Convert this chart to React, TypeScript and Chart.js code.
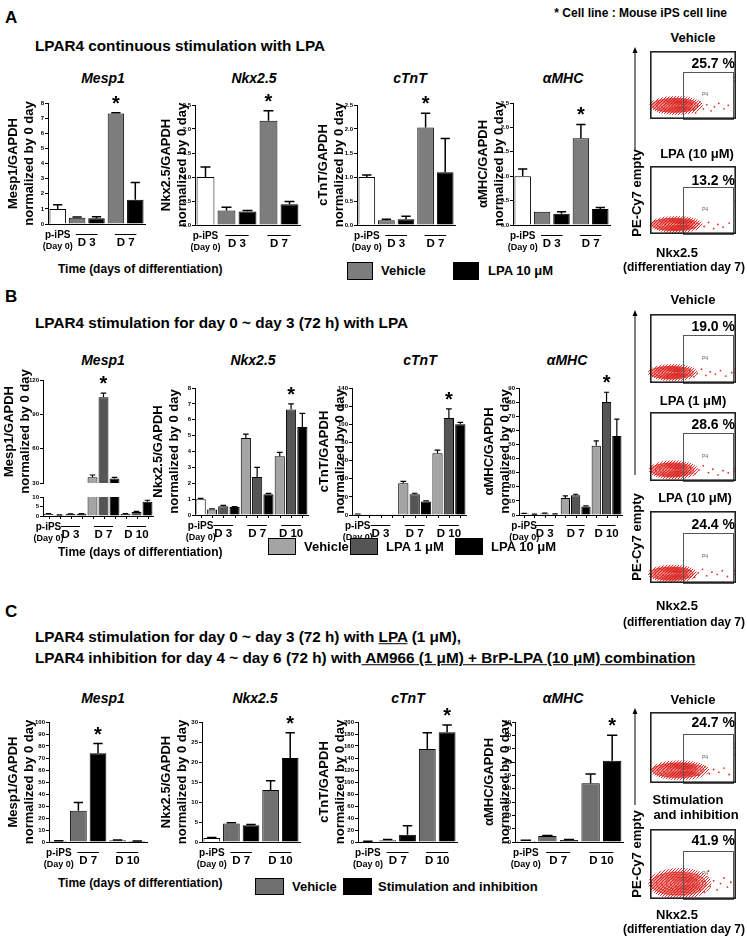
import React, { useEffect, useRef } from 'react';
import { Chart, registerables } from 'chart.js';

Chart.register(...registerables);

const FONT = '"Liberation Sans", Arial, Helvetica, sans-serif';
const TITLE_SIZE = 13;
const LH = TITLE_SIZE * 1.25;

// ---------------- DATA ----------------
// Panel A : p-iPS (Day 0), D 3, D 7
const panelANames = ['p-iPS', 'Vehicle', 'LPA 10 μM'];
const panelAColors = ['#ffffff', '#7d7d7d', '#000000'];
const panelASlotSeries = [0, 1, 2, 1, 2];
const panelASlotGroups = [0, 1, 1, 2, 2];
const panelAGroups = [['p-iPS', '(Day 0)'], ['D 3'], ['D 7']];

const aMesp1Values = [1.0, 0.42, 0.38, 7.3, 1.6];
const aMesp1Errors = [0.28, 0.05, 0.1, 0.05, 1.15];
const aNkxValues = [1.0, 0.3, 0.28, 2.17, 0.43];
const aNkxErrors = [0.21, 0.07, 0.02, 0.21, 0.06];
const aTntValues = [1.0, 0.1, 0.12, 2.03, 1.1];
const aTntErrors = [0.04, 0.02, 0.06, 0.3, 0.7];
const aMhcValues = [1.0, 0.27, 0.23, 1.78, 0.33];
const aMhcErrors = [0.15, 0.0, 0.04, 0.28, 0.03];

// Panel B : p-iPS (Day 0), D 3, D 7, D 10
const panelBNames = ['p-iPS', 'Vehicle', 'LPA 1 μM', 'LPA 10 μM'];
const panelBColors = ['#ffffff', '#a4a4a4', '#555555', '#000000'];
const panelBSlotSeries = [0, 1, 2, 3, 1, 2, 3, 1, 2, 3];
const panelBSlotGroups = [0, 1, 1, 1, 2, 2, 2, 3, 3, 3];
const panelBGroups = [['p-iPS', '(Day 0)'], ['D 3'], ['D 7'], ['D 10']];

const bMesp1Values = [1.0, 0.5, 1.0, 1.2, 35, 105, 34, 1.0, 2.1, 7.5];
const bMesp1Errors = [0.2, 0.1, 0.1, 0.1, 2, 3.5, 1, 0.2, 0.3, 0.8];
const bNkxValues = [1.0, 0.35, 0.55, 0.5, 4.85, 2.4, 1.3, 3.7, 6.65, 5.55];
const bNkxErrors = [0.05, 0.04, 0.06, 0.03, 0.25, 0.6, 0.06, 0.25, 0.35, 0.85];
const bTntValues = [0.8, 0.3, 0.3, 0.3, 35, 23, 15, 68, 107, 100];
const bTntErrors = [0.3, 0, 0, 0, 2, 1, 0.6, 3.5, 10, 2];
const bMhcValues = [1.0, 0.5, 1.0, 0.6, 12, 14, 6, 49, 80, 56];
const bMhcErrors = [0.2, 0.1, 0.3, 0.2, 1.5, 0.7, 0.5, 3.5, 7, 12];

// Panel C : p-iPS (Day 0), D 7, D 10
const panelCNames = ['p-iPS', 'Vehicle', 'Stimulation and inhibition'];
const panelCColors = ['#ffffff', '#6f6f6f', '#000000'];
const panelCSlotSeries = [0, 1, 2, 1, 2];
const panelCSlotGroups = [0, 1, 1, 2, 2];
const panelCGroups = [['p-iPS', '(Day 0)'], ['D 7'], ['D 10']];

const cMesp1Values = [1.0, 26, 74, 1.5, 0.8];
const cMesp1Errors = [0.1, 7, 8, 0.2, 0.1];
const cNkxValues = [1.0, 4.6, 4.2, 13, 21];
const cNkxErrors = [0.1, 0.2, 0.15, 2.3, 6.3];
const cTntValues = [1.0, 3, 12, 155, 183];
const cTntErrors = [0.3, 1, 15, 27, 12];
const cMhcValues = [1.0, 4.5, 1.5, 44, 61];
const cMhcErrors = [0.3, 0.3, 0.3, 7, 19];

// Flow cytometry plots (axis units 0-100): blob = [centre x, centre y, radius x, radius y]
const flowGate = [38, 96, 69];
const flowA1Blob = [29, 20, 27, 10];
const flowA2Blob = [29, 14, 27, 9];
const flowB1Blob = [25, 15, 25, 9];
const flowB2Blob = [26, 16, 25, 10];
const flowB3Blob = [25, 13, 25, 9];
const flowC1Blob = [33, 18, 30, 10];
const flowC2Blob = [33, 22, 32, 16];
const flowA1Events = [[44, 16], [47, 22], [51, 13], [55, 19], [58, 25], [62, 15], [66, 21], [71, 12], [75, 18], [80, 23], [86, 15], [91, 20], [99, 56], [99, 61], [42, 27], [53, 9]];
const flowA2Events = [[43, 12], [48, 18], [52, 9], [57, 15], [63, 11], [68, 17], [74, 8], [79, 14], [85, 10], [92, 16], [99, 48], [45, 22]];
const flowB1Events = [[42, 12], [46, 18], [51, 9], [55, 14], [60, 20], [65, 11], [70, 16], [76, 13], [82, 18], [88, 10], [95, 15], [99, 15], [99, 20]];
const flowB2Events = [[42, 14], [47, 19], [52, 10], [57, 16], [62, 22], [68, 12], [73, 17], [79, 9], [85, 15], [91, 12], [99, 14], [99, 18]];
const flowB3Events = [[43, 11], [47, 17], [52, 8], [56, 14], [61, 19], [66, 10], [72, 15], [78, 12], [84, 17], [90, 9], [99, 12], [99, 17]];
const flowC1Events = [[48, 14], [52, 20], [56, 11], [60, 17], [64, 23], [69, 13], [74, 19], [80, 15], [86, 21], [92, 12], [99, 50], [99, 55], [99, 40]];
const flowC2Events = [[50, 20], [54, 28], [58, 15], [62, 24], [66, 32], [70, 18], [74, 26], [78, 13], [82, 22], [86, 30], [90, 17], [94, 24], [55, 36], [63, 10], [68, 40]];

// ---------------- COMPONENTS ----------------
type BarProps = {
  plot: number[];
  titleX?: number;
  left?: number;
  yTitle?: string[];
  values: number[];
  errors: number[];
  slotSeries: number[];
  slotGroups: number[];
  groups: string[][];
  colors: string[];
  names: string[];
  min?: number;
  max: number;
  step: number;
  dec: number;
  star?: number;
  showX?: boolean;
  showLabels?: boolean;
  clipTop?: boolean;
  barTicks?: boolean;
  barFrac: number;
  errWidth?: number;
  padTop?: number;
  xHeight?: number;
};

function BarChart(p: BarProps) {
  const ref = useRef<HTMLCanvasElement>(null);
  const [x0, y0, x1, y1] = p.plot;
  const left = p.yTitle ? Math.round(p.titleX! - LH / 2) : p.left!;
  const padTop = p.padTop ?? 24;
  const xHeight = p.xHeight ?? 34;
  const top = y0 - padTop;
  const width = x1 + 4 - left;
  const height = y1 + xHeight - top;
  const yWidth = x0 - left;
  const showX = p.showX ?? true;
  const showLabels = p.showLabels ?? true;

  useEffect(() => {
    const slotLabels = p.slotGroups.map((g) => p.groups[g].join(' '));
    const datasets = p.colors.map((c, s) => ({
      label: p.names[s],
      data: p.values.map((v, i) => (p.slotSeries[i] === s ? v : null)),
      backgroundColor: c,
      borderColor: '#000',
      borderWidth: 1,
      borderSkipped: 'start',
      grouped: false,
      categoryPercentage: 1,
      barPercentage: p.barFrac,
      clip: 0,
    }));
    const extras = {
      id: 'barExtras',
      afterDatasetsDraw(chart: any) {
        const { ctx, chartArea: ca } = chart;
        const ys = chart.scales.y;
        const el = (i: number) => chart.getDatasetMeta(p.slotSeries[i]).data[i];
        // error bars
        ctx.save();
        ctx.beginPath();
        const ct = p.clipTop ? ca.top : 0;
        ctx.rect(0, ct, chart.width, ca.bottom - ct);
        ctx.clip();
        ctx.strokeStyle = '#000';
        ctx.lineWidth = p.errWidth ?? 1.5;
        p.values.forEach((v, i) => {
          const e = p.errors[i];
          if (!e) return;
          const b = el(i);
          const yV = ys.getPixelForValue(v);
          const yT = ys.getPixelForValue(v + e);
          const cw = b.width * 0.28;
          ctx.beginPath();
          ctx.moveTo(b.x, yV);
          ctx.lineTo(b.x, yT);
          ctx.moveTo(b.x - cw, yT);
          ctx.lineTo(b.x + cw, yT);
          ctx.stroke();
        });
        ctx.restore();
        // star
        if (p.star !== undefined) {
          const b = el(p.star);
          const yT = ys.getPixelForValue(p.values[p.star] + p.errors[p.star]);
          ctx.save();
          ctx.fillStyle = '#000';
          ctx.font = `bold 20px ${FONT}`;
          ctx.textAlign = 'center';
          ctx.textBaseline = 'alphabetic';
          ctx.fillText('*', b.x, yT - 3);
          ctx.restore();
        }
        // ticks under bars
        if (p.barTicks) {
          ctx.save();
          ctx.strokeStyle = '#000';
          ctx.lineWidth = 1;
          p.values.forEach((_v, i) => {
            const b = el(i);
            ctx.beginPath();
            ctx.moveTo(Math.round(b.x) + 0.5, ca.bottom);
            ctx.lineTo(Math.round(b.x) + 0.5, ca.bottom + 3);
            ctx.stroke();
          });
          ctx.restore();
        }
        // group labels
        if (showLabels) {
          ctx.save();
          ctx.fillStyle = '#000';
          ctx.strokeStyle = '#000';
          ctx.textAlign = 'center';
          ctx.textBaseline = 'middle';
          p.groups.forEach((lines, g) => {
            const bs = p.slotGroups.map((gg, i) => (gg === g ? el(i) : null)).filter(Boolean);
            const xl = Math.min(...bs.map((b: any) => b.x - b.width / 2));
            const xr = Math.max(...bs.map((b: any) => b.x + b.width / 2));
            const cx = (xl + xr) / 2;
            if (lines.length > 1) {
              ctx.font = `bold 10px ${FONT}`;
              ctx.fillText(lines[0], cx, ca.bottom + 11);
              ctx.font = `bold 9px ${FONT}`;
              ctx.fillText(lines[1], cx, ca.bottom + 23);
            } else {
              const hw = Math.max((xr - xl) * 0.3, 8);
              ctx.lineWidth = 1;
              ctx.beginPath();
              ctx.moveTo(cx - hw, ca.bottom + 10.5);
              ctx.lineTo(cx + hw, ca.bottom + 10.5);
              ctx.stroke();
              ctx.font = `bold 11.5px ${FONT}`;
              ctx.fillText(lines[0], cx, ca.bottom + 19);
            }
          });
          ctx.restore();
        }
      },
    };
    const chart = new Chart(ref.current as HTMLCanvasElement, {
      type: 'bar',
      data: { labels: slotLabels, datasets: datasets as any },
      options: {
        animation: false,
        responsive: false,
        devicePixelRatio: 1,
        events: [],
        layout: { padding: { top: padTop, right: 4, left: 0, bottom: 0 } },
        plugins: { legend: { display: false }, tooltip: { enabled: false }, title: { display: false } },
        scales: {
          x: {
            type: 'category',
            offset: true,
            grid: { display: false, drawTicks: false },
            border: { display: showX, color: '#000', width: 1 },
            ticks: { display: false },
            afterFit: (s: any) => {
              s.height = xHeight;
            },
          },
          y: {
            min: p.min ?? 0,
            max: p.max,
            ticks: {
              stepSize: p.step,
              autoSkip: false,
              color: '#000',
              padding: 1,
              font: { size: 6, family: FONT, weight: 'bold' },
              callback: (v: any) => Number(v).toFixed(p.dec),
            },
            grid: { display: true, drawOnChartArea: false, drawTicks: true, tickLength: 3, color: '#000' },
            border: { display: true, color: '#000', width: 1 },
            title: {
              display: !!p.yTitle,
              text: p.yTitle || '',
              color: '#000',
              padding: 0,
              font: { size: TITLE_SIZE, family: FONT, weight: 'bold', lineHeight: 1.25 },
            },
            afterFit: (s: any) => {
              s.width = yWidth;
            },
          },
        },
      } as any,
      plugins: [extras],
    });
    return () => chart.destroy();
  }, []);

  return (
    <canvas
      ref={ref}
      width={width}
      height={height}
      style={{ position: 'absolute', left, top, width, height }}
    />
  );
}

function FlowPlot({ box, blob, events }: { box: number[]; blob: number[]; events: number[][] }) {
  const ref = useRef<HTMLCanvasElement>(null);
  const [left, top, width, height] = box;
  useEffect(() => {
    const deco = {
      id: 'flowDeco',
      beforeDatasetsDraw(chart: any) {
        const { ctx } = chart;
        const xs = chart.scales.x;
        const ys = chart.scales.y;
        const [cx, cy, rx, ry] = blob;
        const X = xs.getPixelForValue(cx);
        const Y = ys.getPixelForValue(cy);
        const RX = xs.getPixelForValue(cx + rx) - X;
        const RY = Y - ys.getPixelForValue(cy + ry);
        // speckle texture for the dense event cloud
        const pc = document.createElement('canvas');
        pc.width = 3;
        pc.height = 3;
        const g = pc.getContext('2d') as CanvasRenderingContext2D;
        g.fillStyle = 'rgba(222, 32, 28, 0.95)';
        g.fillRect(0, 0, 1, 1);
        g.fillRect(2, 1, 1, 1);
        g.fillRect(1, 2, 1, 1);
        const pat = ctx.createPattern(pc, 'repeat');
        ctx.save();
        ctx.fillStyle = pat;
        ctx.beginPath();
        ctx.ellipse(X + RX * 0.05, Y, RX * 1.15, RY * 1.4, 0, 0, Math.PI * 2);
        ctx.fill();
        ctx.fillStyle = 'rgba(226, 40, 40, 0.28)';
        ctx.beginPath();
        ctx.ellipse(X, Y, RX * 1.02, RY * 1.15, 0, 0, Math.PI * 2);
        ctx.fill();
        ctx.fillStyle = 'rgba(226, 40, 40, 0.3)';
        ctx.beginPath();
        ctx.ellipse(X - RX * 0.1, Y, RX * 0.85, RY * 1.0, 0, 0, Math.PI * 2);
        ctx.fill();
        ctx.strokeStyle = '#d8231e';
        ctx.lineWidth = 0.8;
        [1, 0.84, 0.7, 0.57, 0.45, 0.34, 0.24, 0.14].forEach((k) => {
          ctx.beginPath();
          ctx.ellipse(X + (1 - k) * RX * 0.28, Y, RX * k, RY * k, 0, 0, Math.PI * 2);
          ctx.stroke();
        });
        ctx.restore();
      },
      afterDraw(chart: any) {
        const { ctx, chartArea: ca } = chart;
        const xs = chart.scales.x;
        const ys = chart.scales.y;
        ctx.save();
        const gx0 = xs.getPixelForValue(flowGate[0]);
        const gx1 = xs.getPixelForValue(flowGate[1]);
        const gy = ys.getPixelForValue(flowGate[2]);
        ctx.strokeStyle = '#555';
        ctx.lineWidth = 1;
        ctx.strokeRect(Math.round(gx0) + 0.5, Math.round(gy) + 0.5, Math.round(gx1 - gx0), ca.bottom - Math.round(gy));
        ctx.fillStyle = '#666';
        ctx.font = `5px ${FONT}`;
        ctx.textAlign = 'center';
        ctx.textBaseline = 'middle';
        ctx.fillText('P4', xs.getPixelForValue(64), ys.getPixelForValue(36));
        ctx.strokeStyle = '#222';
        ctx.lineWidth = 1.6;
        ctx.strokeRect(ca.left + 0.8, ca.top + 0.8, ca.right - ca.left - 1.6, ca.bottom - ca.top - 1.6);
        ctx.restore();
      },
    };
    const chart = new Chart(ref.current as HTMLCanvasElement, {
      type: 'scatter',
      data: {
        datasets: [
          {
            data: events.map(([x, y]) => ({ x, y })),
            pointRadius: 0.9,
            pointBackgroundColor: '#e0301e',
            pointBorderWidth: 0,
          },
        ],
      },
      options: {
        animation: false,
        responsive: false,
        devicePixelRatio: 1,
        events: [],
        layout: { padding: 0 },
        plugins: { legend: { display: false }, tooltip: { enabled: false } },
        scales: {
          x: { type: 'linear', min: 0, max: 100, display: false },
          y: { type: 'linear', min: 0, max: 100, display: false },
        },
      } as any,
      plugins: [deco],
    });
    return () => chart.destroy();
  }, []);
  return <canvas ref={ref} width={width} height={height} style={{ position: 'absolute', left, top, width, height }} />;
}

function Txt({ x, y, s = 13, align = 'left', italic = false, rot = false, children }: any) {
  const tx = align === 'center' ? '-50%' : align === 'right' ? '-100%' : '0%';
  return (
    <div
      style={{
        position: 'absolute',
        left: x,
        top: y,
        transform: `translate(${tx}, -50%)` + (rot ? ' rotate(-90deg)' : ''),
        fontSize: s,
        fontWeight: 700,
        fontStyle: italic ? 'italic' : 'normal',
        whiteSpace: 'nowrap',
        lineHeight: 1.15,
        fontFamily: FONT,
        color: '#000',
      }}
    >
      {children}
    </div>
  );
}

function Box({ x, y, w, h, c }: any) {
  return (
    <div
      style={{
        position: 'absolute',
        left: x,
        top: y,
        width: w,
        height: h,
        background: c,
        border: '1px solid #000',
        boxSizing: 'border-box',
      }}
    />
  );
}

function Arrow({ x, y1, y2 }: any) {
  return (
    <svg style={{ position: 'absolute', left: x - 5, top: y1, width: 10, height: y2 - y1 }} width={10} height={y2 - y1}>
      <line x1={5} y1={4} x2={5} y2={y2 - y1} stroke="#000" strokeWidth={1} />
      <polygon points="5,0 2.5,6 7.5,6" fill="#000" />
    </svg>
  );
}

const yt = (g: string) => [`${g}/GAPDH`, 'normalized by 0 day'];

export default function App() {
  const A = { slotSeries: panelASlotSeries, slotGroups: panelASlotGroups, groups: panelAGroups, colors: panelAColors, names: panelANames, barFrac: 0.85 };
  const B = { slotSeries: panelBSlotSeries, slotGroups: panelBSlotGroups, groups: panelBGroups, colors: panelBColors, names: panelBNames, barFrac: 0.9, barTicks: true, errWidth: 1.2 };
  const Cc = { slotSeries: panelCSlotSeries, slotGroups: panelCSlotGroups, groups: panelCGroups, colors: panelCColors, names: panelCNames, barFrac: 0.85 };
  return (
    <div style={{ position: 'absolute', left: 0, top: 0, width: 747, height: 940, overflow: 'hidden', background: '#fff' }}>
      {/* ---------- Panel A ---------- */}
      <Txt x={5} y={18} s={17}>A</Txt>
      <Txt x={727} y={14} s={12} align="right">* Cell line : Mouse iPS cell line</Txt>
      <Txt x={35} y={46} s={15.3}>LPAR4 continuous stimulation with LPA</Txt>
      <Txt x={103} y={78} s={14} italic align="center">Mesp1</Txt>
      <Txt x={254} y={78} s={14} italic align="center">Nkx2.5</Txt>
      <Txt x={410} y={78} s={14} italic align="center">cTnT</Txt>
      <Txt x={563} y={78} s={14} italic align="center">αMHC</Txt>
      <BarChart {...A} plot={[48, 103, 145, 224]} titleX={13} yTitle={yt('Mesp1')} values={aMesp1Values} errors={aMesp1Errors} max={8} step={1} dec={0} star={3} />
      <BarChart {...A} plot={[195, 105, 300, 225]} titleX={166} yTitle={yt('Nkx2.5')} values={aNkxValues} errors={aNkxErrors} max={2.5} step={0.5} dec={1} star={3} />
      <BarChart {...A} plot={[357, 105, 455, 225]} titleX={323} yTitle={yt('cTnT')} values={aTntValues} errors={aTntErrors} max={2.5} step={0.5} dec={1} star={3} />
      <BarChart {...A} plot={[513, 103, 610, 225]} titleX={483} yTitle={yt('αMHC')} values={aMhcValues} errors={aMhcErrors} max={2.5} step={0.5} dec={1} star={3} />
      <Txt x={58} y={270} s={12}>Time (days of differentiation)</Txt>
      <Box x={347} y={262} w={26} h={18} c={panelAColors[1]} />
      <Txt x={381} y={271} s={13}>Vehicle</Txt>
      <Box x={453} y={262} w={26} h={18} c={panelAColors[2]} />
      <Txt x={488} y={271} s={13}>LPA 10 μM</Txt>

      <Txt x={693} y={38} s={13} align="center">Vehicle</Txt>
      <FlowPlot box={[646, 47, 94, 76]} blob={flowA1Blob} events={flowA1Events} />
      <Txt x={735} y={63} s={14} align="right">25.7 %</Txt>
      <Txt x={697} y={154} s={13} align="center">LPA (10 μM)</Txt>
      <FlowPlot box={[646, 162, 94, 76]} blob={flowA2Blob} events={flowA2Events} />
      <Txt x={735} y={180} s={14} align="right">13.2 %</Txt>
      <Arrow x={635} y1={47} y2={150} />
      <Txt x={637} y={193} s={13} rot align="center">PE-Cy7 empty</Txt>
      <Txt x={677} y={253} s={13} align="center">Nkx2.5</Txt>
      <Txt x={745} y={268} s={12} align="right">(differentiation day 7)</Txt>

      {/* ---------- Panel B ---------- */}
      <Txt x={5} y={297} s={17}>B</Txt>
      <Txt x={35} y={323} s={15.3}>LPAR4 stimulation for day 0 ~ day 3 (72 h) with LPA</Txt>
      <Txt x={103} y={360} s={14} italic align="center">Mesp1</Txt>
      <Txt x={253} y={360} s={14} italic align="center">Nkx2.5</Txt>
      <Txt x={420} y={360} s={14} italic align="center">cTnT</Txt>
      <Txt x={567} y={360} s={14} italic align="center">αMHC</Txt>
      <BarChart {...B} plot={[43, 380, 153, 483]} titleX={9} yTitle={yt('Mesp1')} values={bMesp1Values} errors={bMesp1Errors} min={30} max={120} step={30} dec={0} star={5} showX={false} showLabels={false} barTicks={false} xHeight={16} />
      <BarChart {...B} plot={[43, 497, 153, 516]} left={1} values={bMesp1Values} errors={bMesp1Errors} min={0} max={10} step={5} dec={0} clipTop padTop={6} />
      <BarChart {...B} plot={[195, 388, 308, 515]} titleX={158} yTitle={yt('Nkx2.5')} values={bNkxValues} errors={bNkxErrors} max={8} step={1} dec={0} star={8} />
      <BarChart {...B} plot={[352, 388, 466, 515]} titleX={324} yTitle={yt('cTnT')} values={bTntValues} errors={bTntErrors} max={140} step={20} dec={0} star={8} />
      <BarChart {...B} plot={[519, 388, 622, 515]} titleX={489} yTitle={yt('αMHC')} values={bMhcValues} errors={bMhcErrors} max={90} step={10} dec={0} star={8} />
      <Txt x={58} y={553} s={12}>Time (days of differentiation)</Txt>
      <Box x={268} y={538} w={28} h={17} c={panelBColors[1]} />
      <Txt x={304} y={547} s={13}>Vehicle</Txt>
      <Box x={350} y={538} w={28} h={17} c={panelBColors[2]} />
      <Txt x={386} y={547} s={13}>LPA 1 μM</Txt>
      <Box x={455} y={538} w={28} h={17} c={panelBColors[3]} />
      <Txt x={491} y={547} s={13}>LPA 10 μM</Txt>

      <Txt x={693} y={300} s={13} align="center">Vehicle</Txt>
      <FlowPlot box={[646, 310, 94, 77]} blob={flowB1Blob} events={flowB1Events} />
      <Txt x={735} y={326} s={14} align="right">19.0 %</Txt>
      <Txt x={693} y={401} s={13} align="center">LPA (1 μM)</Txt>
      <FlowPlot box={[646, 408, 94, 77]} blob={flowB2Blob} events={flowB2Events} />
      <Txt x={735} y={424} s={14} align="right">28.6 %</Txt>
      <Txt x={695} y={498} s={13} align="center">LPA (10 μM)</Txt>
      <FlowPlot box={[646, 507, 94, 80]} blob={flowB3Blob} events={flowB3Events} />
      <Txt x={735} y={524} s={14} align="right">24.4 %</Txt>
      <Arrow x={635} y1={310} y2={475} />
      <Txt x={637} y={537} s={13} rot align="center">PE-Cy7 empty</Txt>
      <Txt x={677} y={606} s={13} align="center">Nkx2.5</Txt>
      <Txt x={745} y={623} s={12} align="right">(differentiation day 7)</Txt>

      {/* ---------- Panel C ---------- */}
      <Txt x={5} y={612} s={17}>C</Txt>
      <Txt x={35} y={637} s={15.3}>
        LPAR4 stimulation for day 0 ~ day 3 (72 h) with <span style={{ textDecoration: 'underline' }}>LPA</span> (1 μM),
      </Txt>
      <Txt x={35} y={658} s={15.3}>
        LPAR4 inhibition for day 4 ~ day 6 (72 h) with
        <span style={{ textDecoration: 'underline' }}> AM966 (1 μM) + BrP-LPA (10 μM) combination</span>
      </Txt>
      <Txt x={103} y={698} s={14} italic align="center">Mesp1</Txt>
      <Txt x={255} y={698} s={14} italic align="center">Nkx2.5</Txt>
      <Txt x={408} y={698} s={14} italic align="center">cTnT</Txt>
      <Txt x={563} y={698} s={14} italic align="center">αMHC</Txt>
      <BarChart {...Cc} plot={[49, 722, 147, 842]} titleX={13} yTitle={yt('Mesp1')} values={cMesp1Values} errors={cMesp1Errors} max={100} step={10} dec={0} star={2} />
      <BarChart {...Cc} plot={[202, 722, 300, 842]} titleX={166} yTitle={yt('Nkx2.5')} values={cNkxValues} errors={cNkxErrors} max={30} step={5} dec={0} star={4} />
      <BarChart {...Cc} plot={[358, 722, 457, 842]} titleX={324} yTitle={yt('cTnT')} values={cTntValues} errors={cTntErrors} max={200} step={20} dec={0} star={4} />
      <BarChart {...Cc} plot={[515, 722, 623, 842]} titleX={489} yTitle={yt('αMHC')} values={cMhcValues} errors={cMhcErrors} max={90} step={10} dec={0} star={4} />
      <Txt x={58} y={884} s={12}>Time (days of differentiation)</Txt>
      <Box x={255} y={878} w={29} h={17} c={panelCColors[1]} />
      <Txt x={292} y={887} s={13}>Vehicle</Txt>
      <Box x={343} y={878} w={29} h={17} c={panelCColors[2]} />
      <Txt x={378} y={887} s={13}>Stimulation and inhibition</Txt>

      <Txt x={693} y={700} s={13} align="center">Vehicle</Txt>
      <FlowPlot box={[646, 708, 94, 79]} blob={flowC1Blob} events={flowC1Events} />
      <Txt x={735} y={722} s={14} align="right">24.7 %</Txt>
      <Txt x={688} y={800} s={13} align="center">Stimulation</Txt>
      <Txt x={696} y={815} s={13} align="center">and inhibition</Txt>
      <FlowPlot box={[646, 825, 94, 78]} blob={flowC2Blob} events={flowC2Events} />
      <Txt x={735} y={840} s={14} align="right">41.9 %</Txt>
      <Arrow x={635} y1={708} y2={805} />
      <Txt x={637} y={854} s={13} rot align="center">PE-Cy7 empty</Txt>
      <Txt x={677} y={915} s={13} align="center">Nkx2.5</Txt>
      <Txt x={745} y={930} s={12} align="right">(differentiation day 7)</Txt>
    </div>
  );
}
